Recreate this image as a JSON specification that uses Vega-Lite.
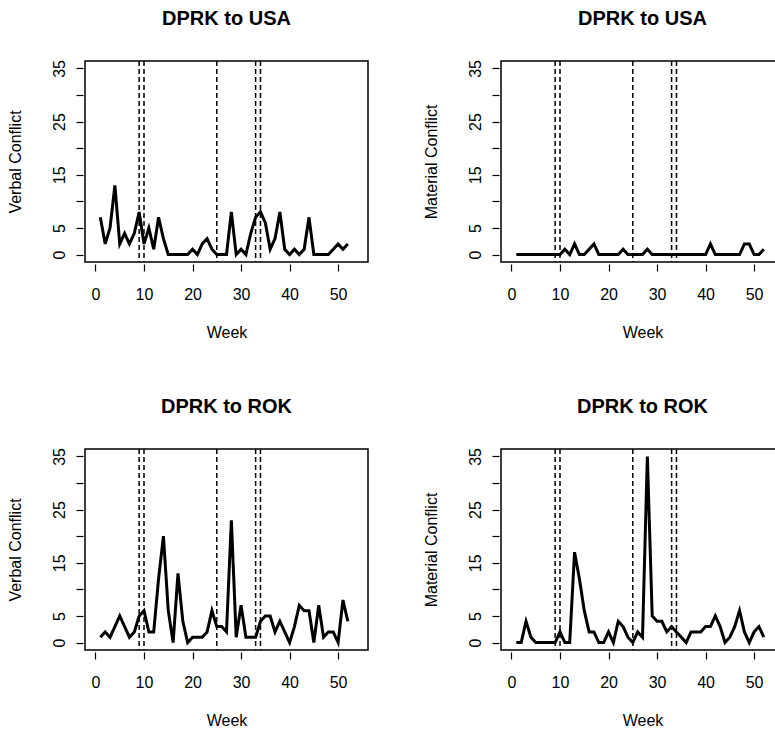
{
  "$schema": "https://vega.github.io/schema/vega-lite/v6.json",
  "background": "white",
  "padding": {"left": 6, "top": 7, "right": -6, "bottom": 0},
  "columns": 2,
  "bounds": "flush",
  "spacing": {"row": 187, "column": 133},
  "datasets": {
    "events": [{"week": 9}, {"week": 10}, {"week": 25}, {"week": 33}, {"week": 34}],
    "usa_verbal": [
      {"week": 1, "count": 7}, {"week": 2, "count": 2}, {"week": 3, "count": 5}, {"week": 4, "count": 13},
      {"week": 5, "count": 2}, {"week": 6, "count": 4}, {"week": 7, "count": 2}, {"week": 8, "count": 4},
      {"week": 9, "count": 8}, {"week": 10, "count": 2}, {"week": 11, "count": 5}, {"week": 12, "count": 1},
      {"week": 13, "count": 7}, {"week": 14, "count": 3}, {"week": 15, "count": 0}, {"week": 16, "count": 0},
      {"week": 17, "count": 0}, {"week": 18, "count": 0}, {"week": 19, "count": 0}, {"week": 20, "count": 1},
      {"week": 21, "count": 0}, {"week": 22, "count": 2}, {"week": 23, "count": 3}, {"week": 24, "count": 1},
      {"week": 25, "count": 0}, {"week": 26, "count": 0}, {"week": 27, "count": 0}, {"week": 28, "count": 8},
      {"week": 29, "count": 0}, {"week": 30, "count": 1}, {"week": 31, "count": 0}, {"week": 32, "count": 4},
      {"week": 33, "count": 7}, {"week": 34, "count": 8}, {"week": 35, "count": 6}, {"week": 36, "count": 1},
      {"week": 37, "count": 3}, {"week": 38, "count": 8}, {"week": 39, "count": 1}, {"week": 40, "count": 0},
      {"week": 41, "count": 1}, {"week": 42, "count": 0}, {"week": 43, "count": 1}, {"week": 44, "count": 7},
      {"week": 45, "count": 0}, {"week": 46, "count": 0}, {"week": 47, "count": 0}, {"week": 48, "count": 0},
      {"week": 49, "count": 1}, {"week": 50, "count": 2}, {"week": 51, "count": 1}, {"week": 52, "count": 2}
    ],
    "usa_material": [
      {"week": 1, "count": 0}, {"week": 2, "count": 0}, {"week": 3, "count": 0}, {"week": 4, "count": 0},
      {"week": 5, "count": 0}, {"week": 6, "count": 0}, {"week": 7, "count": 0}, {"week": 8, "count": 0},
      {"week": 9, "count": 0}, {"week": 10, "count": 0}, {"week": 11, "count": 1}, {"week": 12, "count": 0},
      {"week": 13, "count": 2}, {"week": 14, "count": 0}, {"week": 15, "count": 0}, {"week": 16, "count": 1},
      {"week": 17, "count": 2}, {"week": 18, "count": 0}, {"week": 19, "count": 0}, {"week": 20, "count": 0},
      {"week": 21, "count": 0}, {"week": 22, "count": 0}, {"week": 23, "count": 1}, {"week": 24, "count": 0},
      {"week": 25, "count": 0}, {"week": 26, "count": 0}, {"week": 27, "count": 0}, {"week": 28, "count": 1},
      {"week": 29, "count": 0}, {"week": 30, "count": 0}, {"week": 31, "count": 0}, {"week": 32, "count": 0},
      {"week": 33, "count": 0}, {"week": 34, "count": 0}, {"week": 35, "count": 0}, {"week": 36, "count": 0},
      {"week": 37, "count": 0}, {"week": 38, "count": 0}, {"week": 39, "count": 0}, {"week": 40, "count": 0},
      {"week": 41, "count": 2}, {"week": 42, "count": 0}, {"week": 43, "count": 0}, {"week": 44, "count": 0},
      {"week": 45, "count": 0}, {"week": 46, "count": 0}, {"week": 47, "count": 0}, {"week": 48, "count": 2},
      {"week": 49, "count": 2}, {"week": 50, "count": 0}, {"week": 51, "count": 0}, {"week": 52, "count": 1}
    ],
    "rok_verbal": [
      {"week": 1, "count": 1}, {"week": 2, "count": 2}, {"week": 3, "count": 1}, {"week": 4, "count": 3},
      {"week": 5, "count": 5}, {"week": 6, "count": 3}, {"week": 7, "count": 1}, {"week": 8, "count": 2},
      {"week": 9, "count": 5}, {"week": 10, "count": 6}, {"week": 11, "count": 2}, {"week": 12, "count": 2},
      {"week": 13, "count": 12}, {"week": 14, "count": 20}, {"week": 15, "count": 6}, {"week": 16, "count": 0},
      {"week": 17, "count": 13}, {"week": 18, "count": 4}, {"week": 19, "count": 0}, {"week": 20, "count": 1},
      {"week": 21, "count": 1}, {"week": 22, "count": 1}, {"week": 23, "count": 2}, {"week": 24, "count": 6},
      {"week": 25, "count": 3}, {"week": 26, "count": 3}, {"week": 27, "count": 2}, {"week": 28, "count": 23},
      {"week": 29, "count": 1}, {"week": 30, "count": 7}, {"week": 31, "count": 1}, {"week": 32, "count": 1},
      {"week": 33, "count": 1}, {"week": 34, "count": 4}, {"week": 35, "count": 5}, {"week": 36, "count": 5},
      {"week": 37, "count": 2}, {"week": 38, "count": 4}, {"week": 39, "count": 2}, {"week": 40, "count": 0},
      {"week": 41, "count": 3}, {"week": 42, "count": 7}, {"week": 43, "count": 6}, {"week": 44, "count": 6},
      {"week": 45, "count": 0}, {"week": 46, "count": 7}, {"week": 47, "count": 1}, {"week": 48, "count": 2},
      {"week": 49, "count": 2}, {"week": 50, "count": 0}, {"week": 51, "count": 8}, {"week": 52, "count": 4}
    ],
    "rok_material": [
      {"week": 1, "count": 0}, {"week": 2, "count": 0}, {"week": 3, "count": 4}, {"week": 4, "count": 1},
      {"week": 5, "count": 0}, {"week": 6, "count": 0}, {"week": 7, "count": 0}, {"week": 8, "count": 0},
      {"week": 9, "count": 0}, {"week": 10, "count": 2}, {"week": 11, "count": 0}, {"week": 12, "count": 0},
      {"week": 13, "count": 17}, {"week": 14, "count": 12}, {"week": 15, "count": 6}, {"week": 16, "count": 2},
      {"week": 17, "count": 2}, {"week": 18, "count": 0}, {"week": 19, "count": 0}, {"week": 20, "count": 2},
      {"week": 21, "count": 0}, {"week": 22, "count": 4}, {"week": 23, "count": 3}, {"week": 24, "count": 1},
      {"week": 25, "count": 0}, {"week": 26, "count": 2}, {"week": 27, "count": 1}, {"week": 28, "count": 35},
      {"week": 29, "count": 5}, {"week": 30, "count": 4}, {"week": 31, "count": 4}, {"week": 32, "count": 2},
      {"week": 33, "count": 3}, {"week": 34, "count": 2}, {"week": 35, "count": 1}, {"week": 36, "count": 0},
      {"week": 37, "count": 2}, {"week": 38, "count": 2}, {"week": 39, "count": 2}, {"week": 40, "count": 3},
      {"week": 41, "count": 3}, {"week": 42, "count": 5}, {"week": 43, "count": 3}, {"week": 44, "count": 0},
      {"week": 45, "count": 1}, {"week": 46, "count": 3}, {"week": 47, "count": 6}, {"week": 48, "count": 2},
      {"week": 49, "count": 0}, {"week": 50, "count": 2}, {"week": 51, "count": 3}, {"week": 52, "count": 1}
    ]
  },
  "concat": [
    {
      "width": 283, "height": 201,
      "title": "DPRK to USA",
      "layer": [
        {"data": {"name": "events"}, "mark": {"type": "rule", "color": "black", "strokeWidth": 1.5, "strokeDash": [5, 3]},
         "encoding": {"x": {"field": "week", "type": "quantitative"}}},
        {"data": {"name": "usa_verbal"}, "mark": {"type": "line", "color": "black", "strokeWidth": 3, "strokeJoin": "miter"},
         "encoding": {
           "x": {"field": "week", "type": "quantitative", "scale": {"domain": [-2.16, 56.16], "nice": false, "zero": false}, "axis": {"title": "Week", "values": [0, 10, 20, 30, 40, 50]}},
           "y": {"field": "count", "type": "quantitative", "scale": {"domain": [-1.4, 36.4], "nice": false, "zero": false}, "axis": {"title": "Verbal Conflict", "values": [0, 5, 10, 15, 20, 25, 30, 35], "labelExpr": "(datum.value == 0 || datum.value % 10 == 5) ? datum.label : ''"}}
         }}
      ]
    },
    {
      "width": 283, "height": 201,
      "title": "DPRK to USA",
      "layer": [
        {"data": {"name": "events"}, "mark": {"type": "rule", "color": "black", "strokeWidth": 1.5, "strokeDash": [5, 3]},
         "encoding": {"x": {"field": "week", "type": "quantitative"}}},
        {"data": {"name": "usa_material"}, "mark": {"type": "line", "color": "black", "strokeWidth": 3, "strokeJoin": "miter"},
         "encoding": {
           "x": {"field": "week", "type": "quantitative", "scale": {"domain": [-2.16, 56.16], "nice": false, "zero": false}, "axis": {"title": "Week", "values": [0, 10, 20, 30, 40, 50]}},
           "y": {"field": "count", "type": "quantitative", "scale": {"domain": [-1.4, 36.4], "nice": false, "zero": false}, "axis": {"title": "Material Conflict", "values": [0, 5, 10, 15, 20, 25, 30, 35], "labelExpr": "(datum.value == 0 || datum.value % 10 == 5) ? datum.label : ''"}}
         }}
      ]
    },
    {
      "width": 283, "height": 201,
      "title": "DPRK to ROK",
      "layer": [
        {"data": {"name": "events"}, "mark": {"type": "rule", "color": "black", "strokeWidth": 1.5, "strokeDash": [5, 3]},
         "encoding": {"x": {"field": "week", "type": "quantitative"}}},
        {"data": {"name": "rok_verbal"}, "mark": {"type": "line", "color": "black", "strokeWidth": 3, "strokeJoin": "miter"},
         "encoding": {
           "x": {"field": "week", "type": "quantitative", "scale": {"domain": [-2.16, 56.16], "nice": false, "zero": false}, "axis": {"title": "Week", "values": [0, 10, 20, 30, 40, 50]}},
           "y": {"field": "count", "type": "quantitative", "scale": {"domain": [-1.4, 36.4], "nice": false, "zero": false}, "axis": {"title": "Verbal Conflict", "values": [0, 5, 10, 15, 20, 25, 30, 35], "labelExpr": "(datum.value == 0 || datum.value % 10 == 5) ? datum.label : ''"}}
         }}
      ]
    },
    {
      "width": 283, "height": 201,
      "title": "DPRK to ROK",
      "layer": [
        {"data": {"name": "events"}, "mark": {"type": "rule", "color": "black", "strokeWidth": 1.5, "strokeDash": [5, 3]},
         "encoding": {"x": {"field": "week", "type": "quantitative"}}},
        {"data": {"name": "rok_material"}, "mark": {"type": "line", "color": "black", "strokeWidth": 3, "strokeJoin": "miter"},
         "encoding": {
           "x": {"field": "week", "type": "quantitative", "scale": {"domain": [-2.16, 56.16], "nice": false, "zero": false}, "axis": {"title": "Week", "values": [0, 10, 20, 30, 40, 50]}},
           "y": {"field": "count", "type": "quantitative", "scale": {"domain": [-1.4, 36.4], "nice": false, "zero": false}, "axis": {"title": "Material Conflict", "values": [0, 5, 10, 15, 20, 25, 30, 35], "labelExpr": "(datum.value == 0 || datum.value % 10 == 5) ? datum.label : ''"}}
         }}
      ]
    }
  ],
  "config": {
    "font": "Liberation Sans",
    "view": {"stroke": "black", "strokeWidth": 1.5},
    "title": {"font": "Liberation Sans", "fontSize": 20, "fontWeight": "bold", "color": "black", "anchor": "middle", "baseline": "alphabetic", "offset": 31},
    "axis": {
      "domain": false, "grid": false, "ticks": true, "tickColor": "black", "tickWidth": 1.2, "tickSize": 7, "offset": 2,
      "labelFont": "Liberation Sans", "labelFontSize": 16, "labelColor": "black",
      "titleFont": "Liberation Sans", "titleFontSize": 16, "titleFontWeight": "normal", "titleColor": "black"
    },
    "axisX": {"labelPadding": 15, "titlePadding": 22, "labelFlush": false},
    "axisY": {"labelAngle": 270, "labelAlign": "center", "labelBaseline": "alphabetic", "labelPadding": 12, "titlePadding": 28, "labelFlush": false}
  }
}
